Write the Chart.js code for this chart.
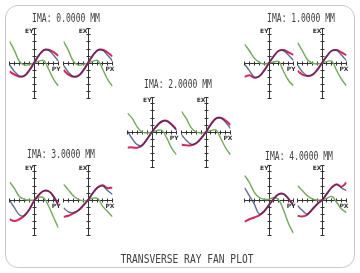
<!DOCTYPE html>
<html>
<head>
<meta charset="utf-8">
<script src="https://cdn.jsdelivr.net/npm/chart.js@4"></script>
<style>
body { margin: 0; background: #fff; }
#page { position: relative; width: 360px; height: 273px; overflow: hidden; background: #fff; }
#frame { position: absolute; left: 5px; top: 5px; width: 348px; height: 261px; border: 1.5px solid #c8c8c8; border-radius: 13px; }
.t { position: absolute; font-family: 'DejaVu Sans Mono'; color: #404040; white-space: nowrap; line-height: 1; }
canvas { position: absolute; }
</style>
</head>
<body>
<div id="page"><div id="frame"></div></div>
<script>
// pupil coordinate (PX / PY) and the tick positions on each fan axis
const pupil = [-1, -0.8, -0.6, -0.4, -0.2, 0, 0.2, 0.4, 0.6, 0.8, 1];
const tickVals = [-1, -0.8, -0.6, -0.4, -0.2, 0, 0.2, 0.4, 0.6, 0.8, 1];
const fieldTitles = ['IMA: 0.0000 MM', 'IMA: 1.0000 MM', 'IMA: 2.0000 MM', 'IMA: 3.0000 MM', 'IMA: 4.0000 MM'];
const footer = 'TRANSVERSE RAY FAN PLOT';

// ray errors (fraction of the plot scale), one array per wavelength
const ima0EyRed   = [-0.24, -0.33, -0.39, -0.37, -0.22, 0, 0.22, 0.37, 0.38, 0.31, 0.2];
const ima0EyBlue  = [-0.05, -0.24, -0.37, -0.37, -0.22, 0, 0.22, 0.37, 0.36, 0.22, 0.05];
const ima0EyGreen = [0.62, 0.36, 0.05, -0.06, -0.04, 0, 0.05, 0.07, -0.18, -0.47, -0.66];
const ima0ExRed   = [-0.2, -0.33, -0.39, -0.37, -0.22, 0, 0.22, 0.37, 0.38, 0.3, 0.19];
const ima0ExBlue  = [-0.07, -0.26, -0.38, -0.37, -0.22, 0, 0.22, 0.37, 0.36, 0.22, 0.06];
const ima0ExGreen = [0.62, 0.36, 0.05, -0.06, -0.04, 0, 0.05, 0.07, -0.18, -0.47, -0.66];

const ima1EyRed   = [-0.4, -0.35, -0.42, -0.38, -0.22, 0, 0.2, 0.35, 0.37, 0.3, 0.23];
const ima1EyBlue  = [-0.03, -0.22, -0.4, -0.38, -0.22, 0, 0.2, 0.35, 0.35, 0.22, 0.08];
const ima1EyGreen = [0.54, 0.35, 0.14, 0.02, -0.03, 0, 0.03, 0.04, -0.25, -0.5, -0.65];
const ima1ExRed   = [-0.22, -0.33, -0.37, -0.34, -0.2, 0, 0.2, 0.35, 0.37, 0.3, 0.22];
const ima1ExBlue  = [-0.06, -0.25, -0.36, -0.34, -0.2, 0, 0.2, 0.35, 0.36, 0.22, 0.07];
const ima1ExGreen = [0.58, 0.35, 0.1, 0.0, -0.03, 0, 0.04, 0.05, -0.22, -0.47, -0.65];

const ima2EyRed   = [-0.44, -0.44, -0.45, -0.38, -0.2, 0, 0.18, 0.3, 0.32, 0.22, 0.08];
const ima2EyBlue  = [0.02, -0.2, -0.36, -0.38, -0.2, 0, 0.18, 0.3, 0.31, 0.2, 0.05];
const ima2EyGreen = [0.54, 0.38, 0.14, 0.0, -0.03, 0, 0.04, 0.05, -0.17, -0.46, -0.65];
const ima2ExRed   = [-0.36, -0.38, -0.38, -0.32, -0.18, 0, 0.22, 0.38, 0.41, 0.33, 0.2];
const ima2ExBlue  = [-0.08, -0.24, -0.35, -0.32, -0.18, 0, 0.22, 0.38, 0.4, 0.28, 0.1];
const ima2ExGreen = [0.59, 0.38, 0.12, 0.0, -0.03, 0, 0.04, 0.06, -0.18, -0.45, -0.65];

const ima3EyRed   = [-0.55, -0.6, -0.55, -0.45, -0.28, -0.03, 0.15, 0.26, 0.25, 0.1, -0.15];
const ima3EyBlue  = [0.0, -0.22, -0.42, -0.45, -0.28, -0.03, 0.15, 0.26, 0.25, 0.1, -0.15];
const ima3EyGreen = [0.52, 0.33, 0.1, 0.02, 0.0, 0.0, 0.08, 0.06, -0.18, -0.5, -0.8];
const ima3ExRed   = [-0.48, -0.45, -0.38, -0.3, -0.16, 0, 0.2, 0.36, 0.42, 0.34, 0.36];
const ima3ExBlue  = [-0.22, -0.34, -0.36, -0.3, -0.16, 0, 0.2, 0.36, 0.4, 0.27, 0.16];
const ima3ExGreen = [0.45, 0.29, 0.12, 0.02, -0.02, 0, 0.05, 0.04, -0.18, -0.33, -0.48];

const ima4EyRed   = [-0.62, -0.55, -0.5, -0.44, -0.32, -0.14, 0.04, 0.17, 0.17, 0.03, -0.14];
const ima4EyBlue  = [0.35, 0.12, -0.12, -0.4, -0.33, -0.14, 0.04, 0.17, 0.17, 0.03, -0.17];
const ima4EyGreen = [0.7, 0.5, 0.22, 0.07, 0.02, 0.02, 0.07, 0.0, -0.3, -0.68, -0.95];
const ima4ExRed   = [-0.45, -0.47, -0.42, -0.27, -0.12, 0, 0.18, 0.36, 0.45, 0.38, 0.5];
const ima4ExBlue  = [-0.16, -0.3, -0.4, -0.27, -0.12, 0, 0.18, 0.36, 0.44, 0.34, 0.27];
const ima4ExGreen = [0.41, 0.27, 0.12, 0.03, 0.0, 0, 0.05, 0.1, -0.07, -0.26, -0.36];

const page = document.getElementById('page');

// crossing axes with "+" ticks, plus the little EY / PY names
const fanAxes = {
  id: 'fanAxes',
  beforeDatasetsDraw(chart, args, opts) {
    const { ctx, scales: { x, y } } = chart;
    const snap = v => Math.floor(v) + 0.5;
    const x0 = snap(x.getPixelForValue(0));
    const y0 = snap(y.getPixelForValue(0));
    ctx.save();
    ctx.strokeStyle = '#333';
    ctx.lineWidth = 1;
    ctx.beginPath();
    ctx.moveTo(x.getPixelForValue(-1), y0);
    ctx.lineTo(x.getPixelForValue(1), y0);
    ctx.moveTo(x0, y.getPixelForValue(1));
    ctx.lineTo(x0, y.getPixelForValue(-1));
    tickVals.forEach(v => {
      const px = snap(x.getPixelForValue(v));
      const py = snap(y.getPixelForValue(v));
      ctx.moveTo(px, y0 - 2); ctx.lineTo(px, y0 + 2);
      ctx.moveTo(x0 - 2, py); ctx.lineTo(x0 + 2, py);
    });
    ctx.stroke();
    ctx.fillStyle = '#333';
    ctx.font = 'bold 6px "DejaVu Sans"';
    ctx.textAlign = 'right';
    ctx.textBaseline = 'top';
    ctx.fillText(opts.yName, x0 - 1, y.getPixelForValue(1));
    ctx.fillText(opts.xName, x.getPixelForValue(1) + 2, y0 + 3);
    ctx.restore();
  }
};

function line(vals, color, width) {
  return {
    data: vals.map((v, i) => ({ x: pupil[i], y: v })),
    borderColor: color,
    borderWidth: width,
    pointRadius: 0,
    tension: 0.4,
    fill: false
  };
}

function makePlot(cx, cy, xName, yName, blue, green, red) {
  const c = document.createElement('canvas');
  c.width = 60; c.height = 80;
  c.style.left = (cx - 30) + 'px';
  c.style.top = (cy - 40) + 'px';
  page.appendChild(c);
  new Chart(c, {
    type: 'line',
    data: {
      datasets: [
        line(blue, 'rgba(28,45,105,0.7)', 1.4),
        line(red, '#d42a58', 2),
        line(green, '#74a85c', 1.4)
      ]
    },
    options: {
      responsive: false,
      animation: false,
      layout: { padding: { left: 5.5, right: 5.5, top: 5, bottom: 5 } },
      scales: {
        x: { type: 'linear', min: -1, max: 1, display: false },
        y: { type: 'linear', min: -1, max: 1, display: false }
      },
      plugins: {
        legend: { display: false },
        tooltip: { enabled: false },
        fanAxes: { xName: xName, yName: yName }
      }
    },
    plugins: [fanAxes]
  });
}

function addText(str, cx, cy, size, sx) {
  const d = document.createElement('div');
  d.className = 't';
  d.textContent = str;
  d.style.fontSize = size + 'px';
  d.style.left = cx + 'px';
  d.style.top = (cy - size * 0.48) + 'px';
  d.style.transform = 'translateX(-50%) scaleX(' + sx + ')';
  page.appendChild(d);
}

makePlot(34, 63, 'PY', 'EY', ima0EyBlue, ima0EyGreen, ima0EyRed);
makePlot(88, 63, 'PX', 'EX', ima0ExBlue, ima0ExGreen, ima0ExRed);
makePlot(269, 63, 'PY', 'EY', ima1EyBlue, ima1EyGreen, ima1EyRed);
makePlot(322, 63, 'PX', 'EX', ima1ExBlue, ima1ExGreen, ima1ExRed);
makePlot(152, 132, 'PY', 'EY', ima2EyBlue, ima2EyGreen, ima2EyRed);
makePlot(206, 132, 'PX', 'EX', ima2ExBlue, ima2ExGreen, ima2ExRed);
makePlot(34, 200, 'PY', 'EY', ima3EyBlue, ima3EyGreen, ima3EyRed);
makePlot(88, 200, 'PX', 'EX', ima3ExBlue, ima3ExGreen, ima3ExRed);
makePlot(269, 200, 'PY', 'EY', ima4EyBlue, ima4EyGreen, ima4EyRed);
makePlot(322, 200, 'PX', 'EX', ima4ExBlue, ima4ExGreen, ima4ExRed);

addText(fieldTitles[0], 66, 17.5, 12, 0.67);
addText(fieldTitles[1], 301, 17.5, 12, 0.67);
addText(fieldTitles[2], 178, 84, 12, 0.67);
addText(fieldTitles[3], 61, 154, 12, 0.67);
addText(fieldTitles[4], 299, 156, 12, 0.67);
addText(footer, 187, 258.5, 12, 0.8);
</script>
</body>
</html>
